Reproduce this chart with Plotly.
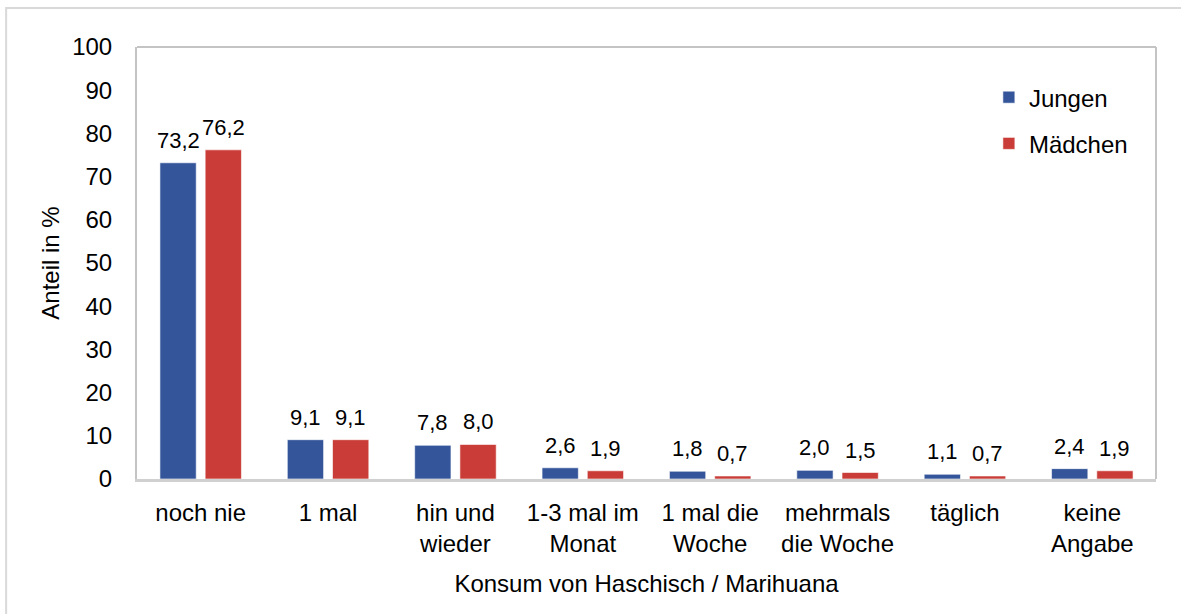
import plotly.graph_objects as go

categories = ["noch nie", "1 mal", "hin und<br>wieder", "1-3 mal im<br>Monat",
              "1 mal die<br>Woche", "mehrmals<br>die Woche", "täglich", "keine<br>Angabe"]
jungen = [73.2, 9.1, 7.8, 2.6, 1.8, 2.0, 1.1, 2.4]
maedchen = [76.2, 9.1, 8.0, 1.9, 0.7, 1.5, 0.7, 1.9]
y_ticks = [0, 10, 20, 30, 40, 50, 60, 70, 80, 90, 100]

FONT = "Liberation Sans, Arial, sans-serif"
BLUE = "#34559a"
RED = "#c93c37"

fig = go.Figure()
fig.add_trace(go.Bar(name="Jungen", x=categories, y=jungen, marker_color=BLUE,
                     marker_line=dict(color="rgba(255,255,255,0.6)", width=1),
                     width=0.285, offset=-0.32, legendgroup="j"))
fig.add_trace(go.Bar(name="Mädchen", x=categories, y=maedchen, marker_color=RED,
                     marker_line=dict(color="rgba(255,255,255,0.6)", width=1),
                     width=0.285, offset=0.035, legendgroup="m"))

# value labels with decimal comma
for vals, shift in ((jungen, -0.1775), (maedchen, 0.1775)):
    for i, v in enumerate(vals):
        fig.add_annotation(x=i + shift, y=v, text=f"{v:.1f}".replace(".", ","),
                           showarrow=False, yanchor="bottom", yshift=8,
                           font=dict(size=22, color="black", family=FONT))

# outer frame of the chart
fig.add_shape(type="rect", xref="paper", yref="paper",
              x0=-131 / 1020, x1=1.05, y0=-0.5, y1=1 + 39 / 432,
              line=dict(color="#d9d9d9", width=2), layer="below")

fig.update_layout(
    template="none",
    width=1181, height=614,
    margin=dict(l=137, r=25, t=47, b=135),
    plot_bgcolor="white", paper_bgcolor="white",
    font=dict(family=FONT, size=24, color="black"),
    showlegend=True,
    legend=dict(x=0.836, y=0.935, xanchor="left", yanchor="top",
                font=dict(size=24, family=FONT), tracegroupgap=12,
                bgcolor="rgba(0,0,0,0)", itemwidth=30),
    xaxis=dict(type="category", showline=True, linecolor="#d0d0d0", linewidth=3,
               mirror=False, ticks="", tickfont=dict(size=24), automargin=False,
               range=[-0.5, 7.5], showgrid=False, zeroline=False,
               ticklabelstandoff=10,
               title=dict(text="Konsum von Haschisch / Marihuana", font=dict(size=24), standoff=20)),
    yaxis=dict(range=[0, 100], tickvals=y_ticks, showgrid=False, zeroline=False,
               showline=True, linecolor="#c4c4c4", linewidth=2, ticks="",
               automargin=False,
               ticklabelstandoff=18, tickfont=dict(size=24),
               title=dict(text="Anteil in %", font=dict(size=24), standoff=6)),
)

# plot-area frame (top and right)
fig.add_shape(type="line", xref="paper", yref="paper", x0=0, x1=1, y0=1, y1=1,
              line=dict(color="#c4c4c4", width=2))
fig.add_shape(type="line", xref="paper", yref="paper", x0=1, x1=1, y0=0, y1=1,
              line=dict(color="#c4c4c4", width=2))

fig.write_html("out.html", config={"displayModeBar": False},
               post_script="document.body.style.margin='0';")
